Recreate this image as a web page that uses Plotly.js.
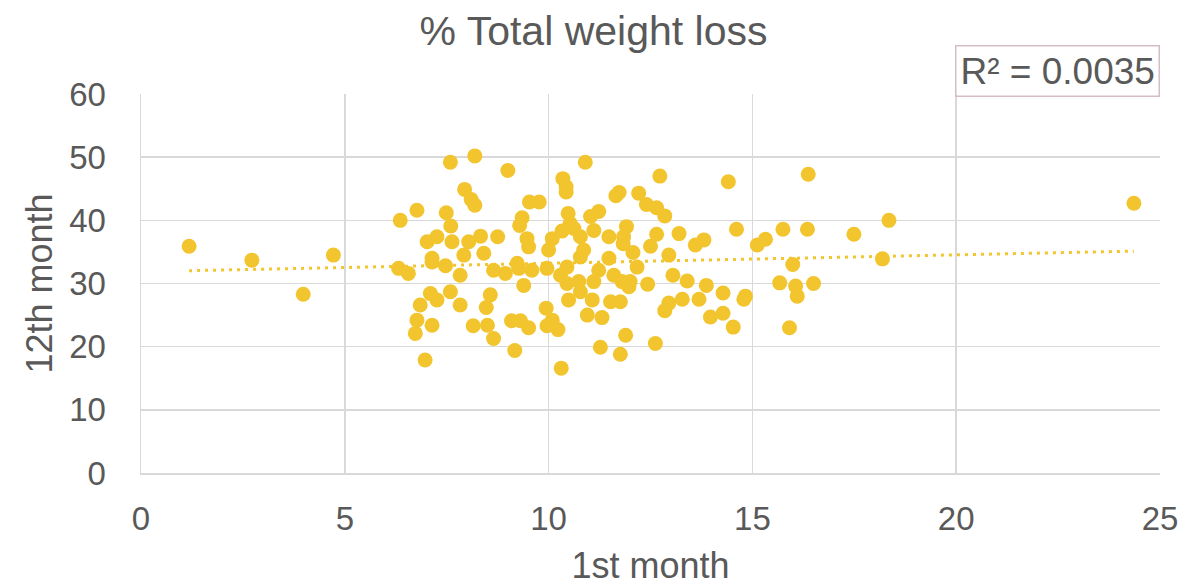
<!DOCTYPE html>
<html>
<head>
<meta charset="utf-8">
<script src="https://cdn.plot.ly/plotly-3.0.1.min.js"></script>
<style>html,body{margin:0;padding:0;background:#fff;}#chart{width:1187px;height:586px;}</style>
</head>
<body>
<div id="chart"></div>
<script>
const month1 = [1.18,2.72,3.98,4.72,6.36,6.32,6.56,7.59,8.19,9.0,7.94,8.1,8.19,10.35,10.43,10.43,10.9,9.53,9.77,6.77,7.49,7.6,9.35,9.29,10.48,10.53,10.33,7.02,7.26,7.63,8.04,8.33,8.75,9.47,9.51,10.09,10.0,7.14,7.92,8.41,7.14,7.47,7.83,8.65,8.94,9.23,9.27,9.39,9.59,9.96,10.29,10.45,10.49,7.1,6.85,7.26,7.59,7.83,8.57,8.47,6.77,6.73,7.14,8.15,8.5,8.65,6.97,9.09,9.31,9.51,9.17,9.94,10.09,9.96,10.23,10.31,12.73,14.41,11.65,11.73,12.21,12.4,12.65,12.85,11.03,11.23,10.62,10.78,11.11,11.48,11.91,11.84,11.83,12.07,12.65,12.5,13.2,13.6,13.81,14.61,15.12,10.86,10.78,11.48,12.95,12.17,10.45,10.74,10.78,11.11,11.23,11.6,11.8,11.97,12.0,12.43,11.07,11.52,11.76,10.95,11.31,11.89,11.27,11.76,12.62,13.05,13.4,13.87,14.28,14.83,14.79,12.95,12.85,13.28,13.69,13.97,14.28,14.53,16.37,18.35,15.75,16.35,17.49,15.32,18.19,15.99,15.67,16.06,16.5,16.1,15.91,24.36];
const month12 = [35.9,33.7,28.3,34.5,40.0,32.4,31.6,49.2,50.2,47.9,44.9,43.3,42.4,46.6,45.3,44.5,49.2,42.9,42.9,41.6,41.2,39.1,40.4,39.2,41.1,39.5,38.3,36.6,37.4,36.6,36.6,37.5,37.4,37.1,35.8,37.1,35.3,34.0,34.5,34.8,33.4,32.8,31.3,32.1,31.6,33.2,32.4,29.7,32.1,32.4,31.3,30.0,27.4,28.4,26.6,27.4,28.7,26.6,28.2,26.2,24.2,22.1,23.4,23.3,23.4,21.3,17.9,24.1,24.1,23.0,19.4,26.1,24.2,23.3,22.7,16.6,47.0,46.1,43.9,44.4,44.3,42.5,42.0,40.7,40.6,41.4,38.7,37.4,38.4,37.4,39.0,37.4,36.3,34.9,37.8,35.9,37.9,36.1,36.9,38.6,36.1,35.3,34.2,34.0,34.5,32.6,32.6,30.3,28.7,30.3,32.1,31.3,30.3,29.5,30.3,29.9,27.4,27.1,27.1,25.0,24.6,21.8,19.9,18.8,20.5,31.3,30.4,29.7,28.5,28.0,27.5,26.9,25.7,27.5,27.5,24.7,25.3,23.1,47.3,40.0,38.6,38.6,37.8,37.0,33.9,33.0,30.1,29.6,30.0,28.0,23.0,42.7];
const xTicks = [0,5,10,15,20,25];
const yTicks = [0,10,20,30,40,50,60];
const r2Label = "R² = 0.0035";

// least-squares trendline computed from the data
const n = month1.length;
const mx = month1.reduce((a,b)=>a+b,0)/n;
const my = month12.reduce((a,b)=>a+b,0)/n;
let sxy=0, sxx=0;
for (let i=0;i<n;i++){ sxy += (month1[i]-mx)*(month12[i]-my); sxx += (month1[i]-mx)**2; }
const slope = sxy/sxx, icpt = my - slope*mx;
const xmin = Math.min(...month1), xmax = Math.max(...month1);
const trendX = [xmin, xmax];
const trendY = trendX.map(v => icpt + slope*v);

const gold = '#F2C52E';
const txt = '#595959';
const grid = '#D9D9D9';
const fam = '"Liberation Sans", Arial, sans-serif';

const traces = [
  {x: trendX, y: trendY, type:'scatter', mode:'lines', line:{color:gold, width:3, dash:'3px,5px'}, hoverinfo:'skip', showlegend:false},
  {x: month1, y: month12, type:'scatter', mode:'markers', marker:{color:gold, size:15, line:{width:0}}, showlegend:false}
];

const layout = {
  width:1187, height:586,
  margin:{l:141, r:27, t:94, b:113},
  paper_bgcolor:'#fff', plot_bgcolor:'#fff',
  font:{family:fam, color:txt},
  title:{text:'% Total weight loss', font:{size:41, color:txt, family:fam}, x:0.5, xref:'container', xanchor:'center', y:0.948, yanchor:'middle'},
  xaxis:{range:[0,25], tickvals:xTicks, ticktext:xTicks.map(String), showgrid:true, gridcolor:grid, gridwidth:1.5,
         zeroline:false, showline:true, linecolor:grid, linewidth:1.5, mirror:false, ticks:'',
         tickfont:{size:33, color:txt}, ticklabelstandoff:16,
         title:{text:'1st month', font:{size:36, color:txt}, standoff:17}},
  yaxis:{range:[0,60], tickvals:yTicks, ticktext:yTicks.map(String), showgrid:true, gridcolor:grid, gridwidth:1.5,
         zeroline:false, showline:true, linecolor:grid, linewidth:1.5, ticks:'',
         tickfont:{size:33, color:txt}, ticklabelstandoff:27,
         title:{text:'12th month', font:{size:36, color:txt}, standoff:5}},
  annotations:[{text:r2Label, xref:'paper', yref:'paper', x:1, y:1, xanchor:'right', yanchor:'bottom', yshift:-3, showarrow:false,
                font:{size:37, color:txt}, bordercolor:'#D6BDC4', borderwidth:1.5, borderpad:4, bgcolor:'rgba(255,255,255,0)'}]
};

Plotly.newPlot('chart', traces, layout, {displayModeBar:false, staticPlot:true});
</script>
</body>
</html>
